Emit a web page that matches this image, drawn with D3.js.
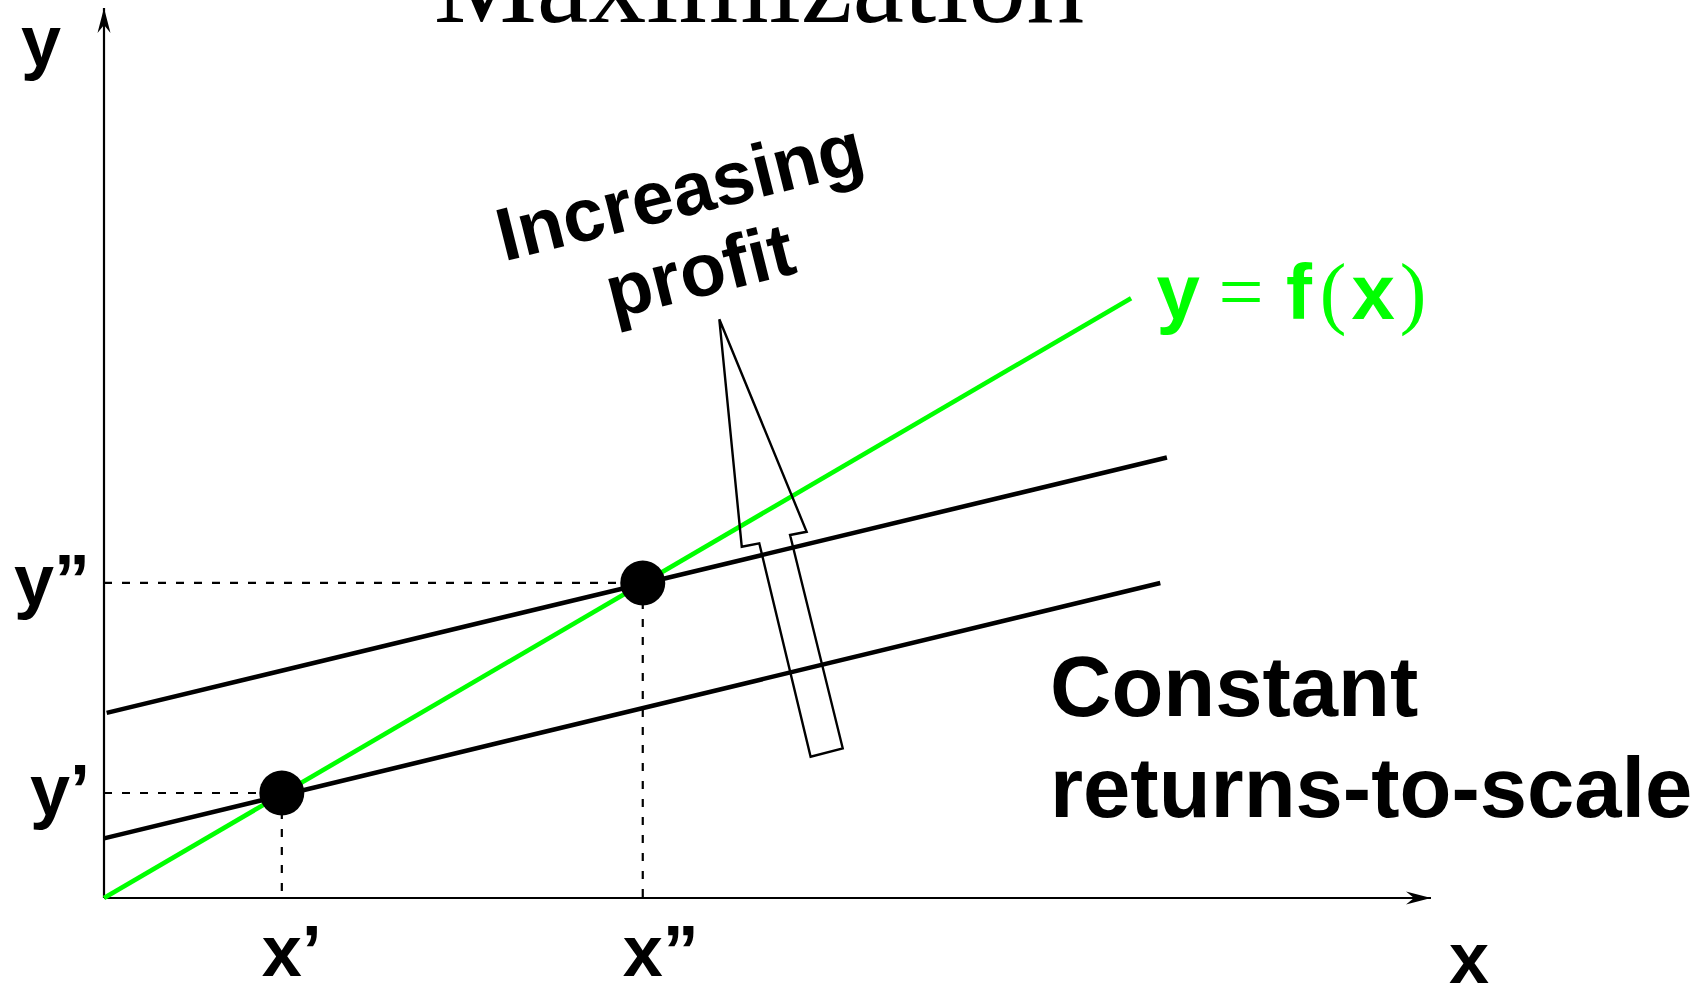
<!DOCTYPE html>
<html>
<head>
<meta charset="utf-8">
<script src="https://cdn.jsdelivr.net/npm/d3@7"></script>
<style>
  body { margin: 0; background: #fff; }
  svg { display: block; }
  .lbl { font-family: "Liberation Sans", Arial, sans-serif; font-weight: bold; fill: #000; }
  .serif { font-family: "Liberation Serif", "Times New Roman", serif; }
</style>
</head>
<body>
<script>
// diagram values, in axis units (0..100 on both axes)
const xTicks = ["x’", "x”"];
const yTicks = ["y’", "y”"];
const xVals = [13.4, 40.6];
const yVals = [11.8, 35.4];

// production function y = f(x), straight through the origin
const prodLine = [[0, 0], [77.4, 67.4]];

// isoprofit lines (low, high)
const isoLow = [[0, 6.7], [79.6, 35.4]];
const isoHigh = [[0.2, 20.8], [80.1, 49.5]];

// block arrow "increasing profit"
const arrowPts = [[46.37, 65.02], [52.95, 41.15], [51.70, 40.79], [55.67, 16.82],
                  [53.25, 15.88], [49.38, 39.85], [48.06, 39.47]];

const W = 1703, H = 991;
const DM = { left: 104, right: 1431, top: 8, bottom: 898 };

const svg = d3.select('body')
              .append('svg')
              .attr('width', W)
              .attr('height', H);

svg.append('rect').attr('width', W).attr('height', H).attr('fill', '#fff');

// scales
const xScale = d3.scaleLinear().domain([0, 100]).range([DM.left, DM.right]);
const yScale = d3.scaleLinear().domain([0, 100]).range([DM.bottom, DM.top]);

const line = d3.line().x(d => xScale(d[0])).y(d => yScale(d[1]));

// arrowhead marker
const defs = svg.append('defs');
defs.append('marker')
    .attr('id', 'ah')
    .attr('markerUnits', 'userSpaceOnUse')
    .attr('viewBox', '-25 -7 25 14')
    .attr('refX', 0).attr('refY', 0)
    .attr('markerWidth', 25).attr('markerHeight', 14)
    .attr('orient', 'auto')
    .append('path')
    .attr('d', 'M0,0 L-25,-6.5 L-17,0 L-25,6.5 Z')
    .attr('fill', '#000');

// title (partly off the top, as in the original slide)
svg.append('text')
   .attr('class', 'serif')
   .attr('x', 759).attr('y', 22)
   .attr('text-anchor', 'middle')
   .attr('font-size', 116)
   .attr('fill', '#000')
   .text('Maximization');

// dashed guides
xVals.forEach((xv, i) => {
  const yv = yVals[i];
  svg.append('path')
     .attr('d', line([[0, yv], [xv, yv]]))
     .attr('stroke', '#000').attr('stroke-width', 2.2)
     .attr('stroke-dasharray', '8,10').attr('fill', 'none');
  svg.append('path')
     .attr('d', line([[xv, yv], [xv, 0]]))
     .attr('stroke', '#000').attr('stroke-width', 2.2)
     .attr('stroke-dasharray', '8,10').attr('fill', 'none');
});

// axes
svg.append('line')
   .attr('x1', xScale(0)).attr('y1', yScale(0))
   .attr('x2', xScale(100)).attr('y2', yScale(0))
   .attr('stroke', '#000').attr('stroke-width', 2.2)
   .attr('marker-end', 'url(#ah)');
svg.append('line')
   .attr('x1', xScale(0)).attr('y1', yScale(0))
   .attr('x2', xScale(0)).attr('y2', yScale(100))
   .attr('stroke', '#000').attr('stroke-width', 2.2)
   .attr('marker-end', 'url(#ah)');

// isoprofit lines
[isoLow, isoHigh].forEach(d => {
  svg.append('path')
     .attr('d', line(d))
     .attr('stroke', '#000').attr('stroke-width', 4.6).attr('fill', 'none');
});

// production function
svg.append('path')
   .attr('d', line(prodLine))
   .attr('stroke', '#00ff00').attr('stroke-width', 4.6).attr('fill', 'none');

// block arrow
svg.append('path')
   .attr('d', line(arrowPts) + 'Z')
   .attr('fill', 'none').attr('stroke', '#000').attr('stroke-width', 2.4)
   .attr('stroke-linejoin', 'miter');

// optimum points
svg.selectAll('circle.pt')
   .data(xVals)
   .enter()
   .append('circle')
   .attr('class', 'pt')
   .attr('cx', d => xScale(d))
   .attr('cy', (d, i) => yScale(yVals[i]))
   .attr('r', 22.5)
   .attr('fill', '#000');

// tick labels
svg.selectAll('text.xt')
   .data(xTicks)
   .enter()
   .append('text')
   .attr('class', 'lbl xt')
   .attr('x', (d, i) => xScale(xVals[i]) - 20)
   .attr('y', 976)
   .attr('font-size', 72)
   .text(d => d);

svg.selectAll('text.yt')
   .data(yTicks)
   .enter()
   .append('text')
   .attr('class', 'lbl yt')
   .attr('x', xScale(0) - 14)
   .attr('y', (d, i) => yScale(yVals[i]) + 22)
   .attr('text-anchor', 'end')
   .attr('font-size', 72)
   .text(d => d);

// axis names
svg.append('text').attr('class', 'lbl')
   .attr('x', 1469).attr('y', 983).attr('text-anchor', 'middle')
   .attr('font-size', 72).text('x');
svg.append('text').attr('class', 'lbl')
   .attr('x', 41).attr('y', 66).attr('text-anchor', 'middle')
   .attr('font-size', 72).text('y');

// y = f(x) label, pieces laid out like typeset math
const fx = xScale(prodLine[1][0]) + 26, fy = yScale(prodLine[1][1]) + 21;
const pieces = [
  { t: 'y', dx: 21, serif: false },
  { t: '=', dx: 84, serif: true },
  { t: 'f', dx: 142, serif: false },
  { t: '(', dx: 176, serif: true },
  { t: 'x', dx: 216, serif: false },
  { t: ')', dx: 256, serif: true }
];
pieces.forEach(p => {
  svg.append('text')
     .attr('class', p.serif ? 'serif' : 'lbl')
     .attr('x', fx + p.dx).attr('y', fy)
     .attr('text-anchor', 'middle')
     .attr('font-size', p.serif ? 80 : 78)
     .attr('font-weight', p.serif ? 'normal' : 'bold')
     .style('fill', '#00ff00')
     .text(p.t);
});

// constant returns note
svg.append('text').attr('class', 'lbl')
   .attr('x', 1050).attr('y', 716).attr('font-size', 85).text('Constant');
svg.append('text').attr('class', 'lbl')
   .attr('x', 1050).attr('y', 817).attr('font-size', 85).text('returns-to-scale');

// rotated arrow caption
const cap = svg.append('g').attr('transform', 'translate(686,216) rotate(-14)');
cap.append('text').attr('class', 'lbl')
   .attr('x', 0).attr('y', 0).attr('text-anchor', 'middle')
   .attr('font-size', 75).text('Increasing');
cap.append('text').attr('class', 'lbl')
   .attr('x', 0).attr('y', 82).attr('text-anchor', 'middle')
   .attr('font-size', 75).text('profit');
</script>
</body>
</html>
